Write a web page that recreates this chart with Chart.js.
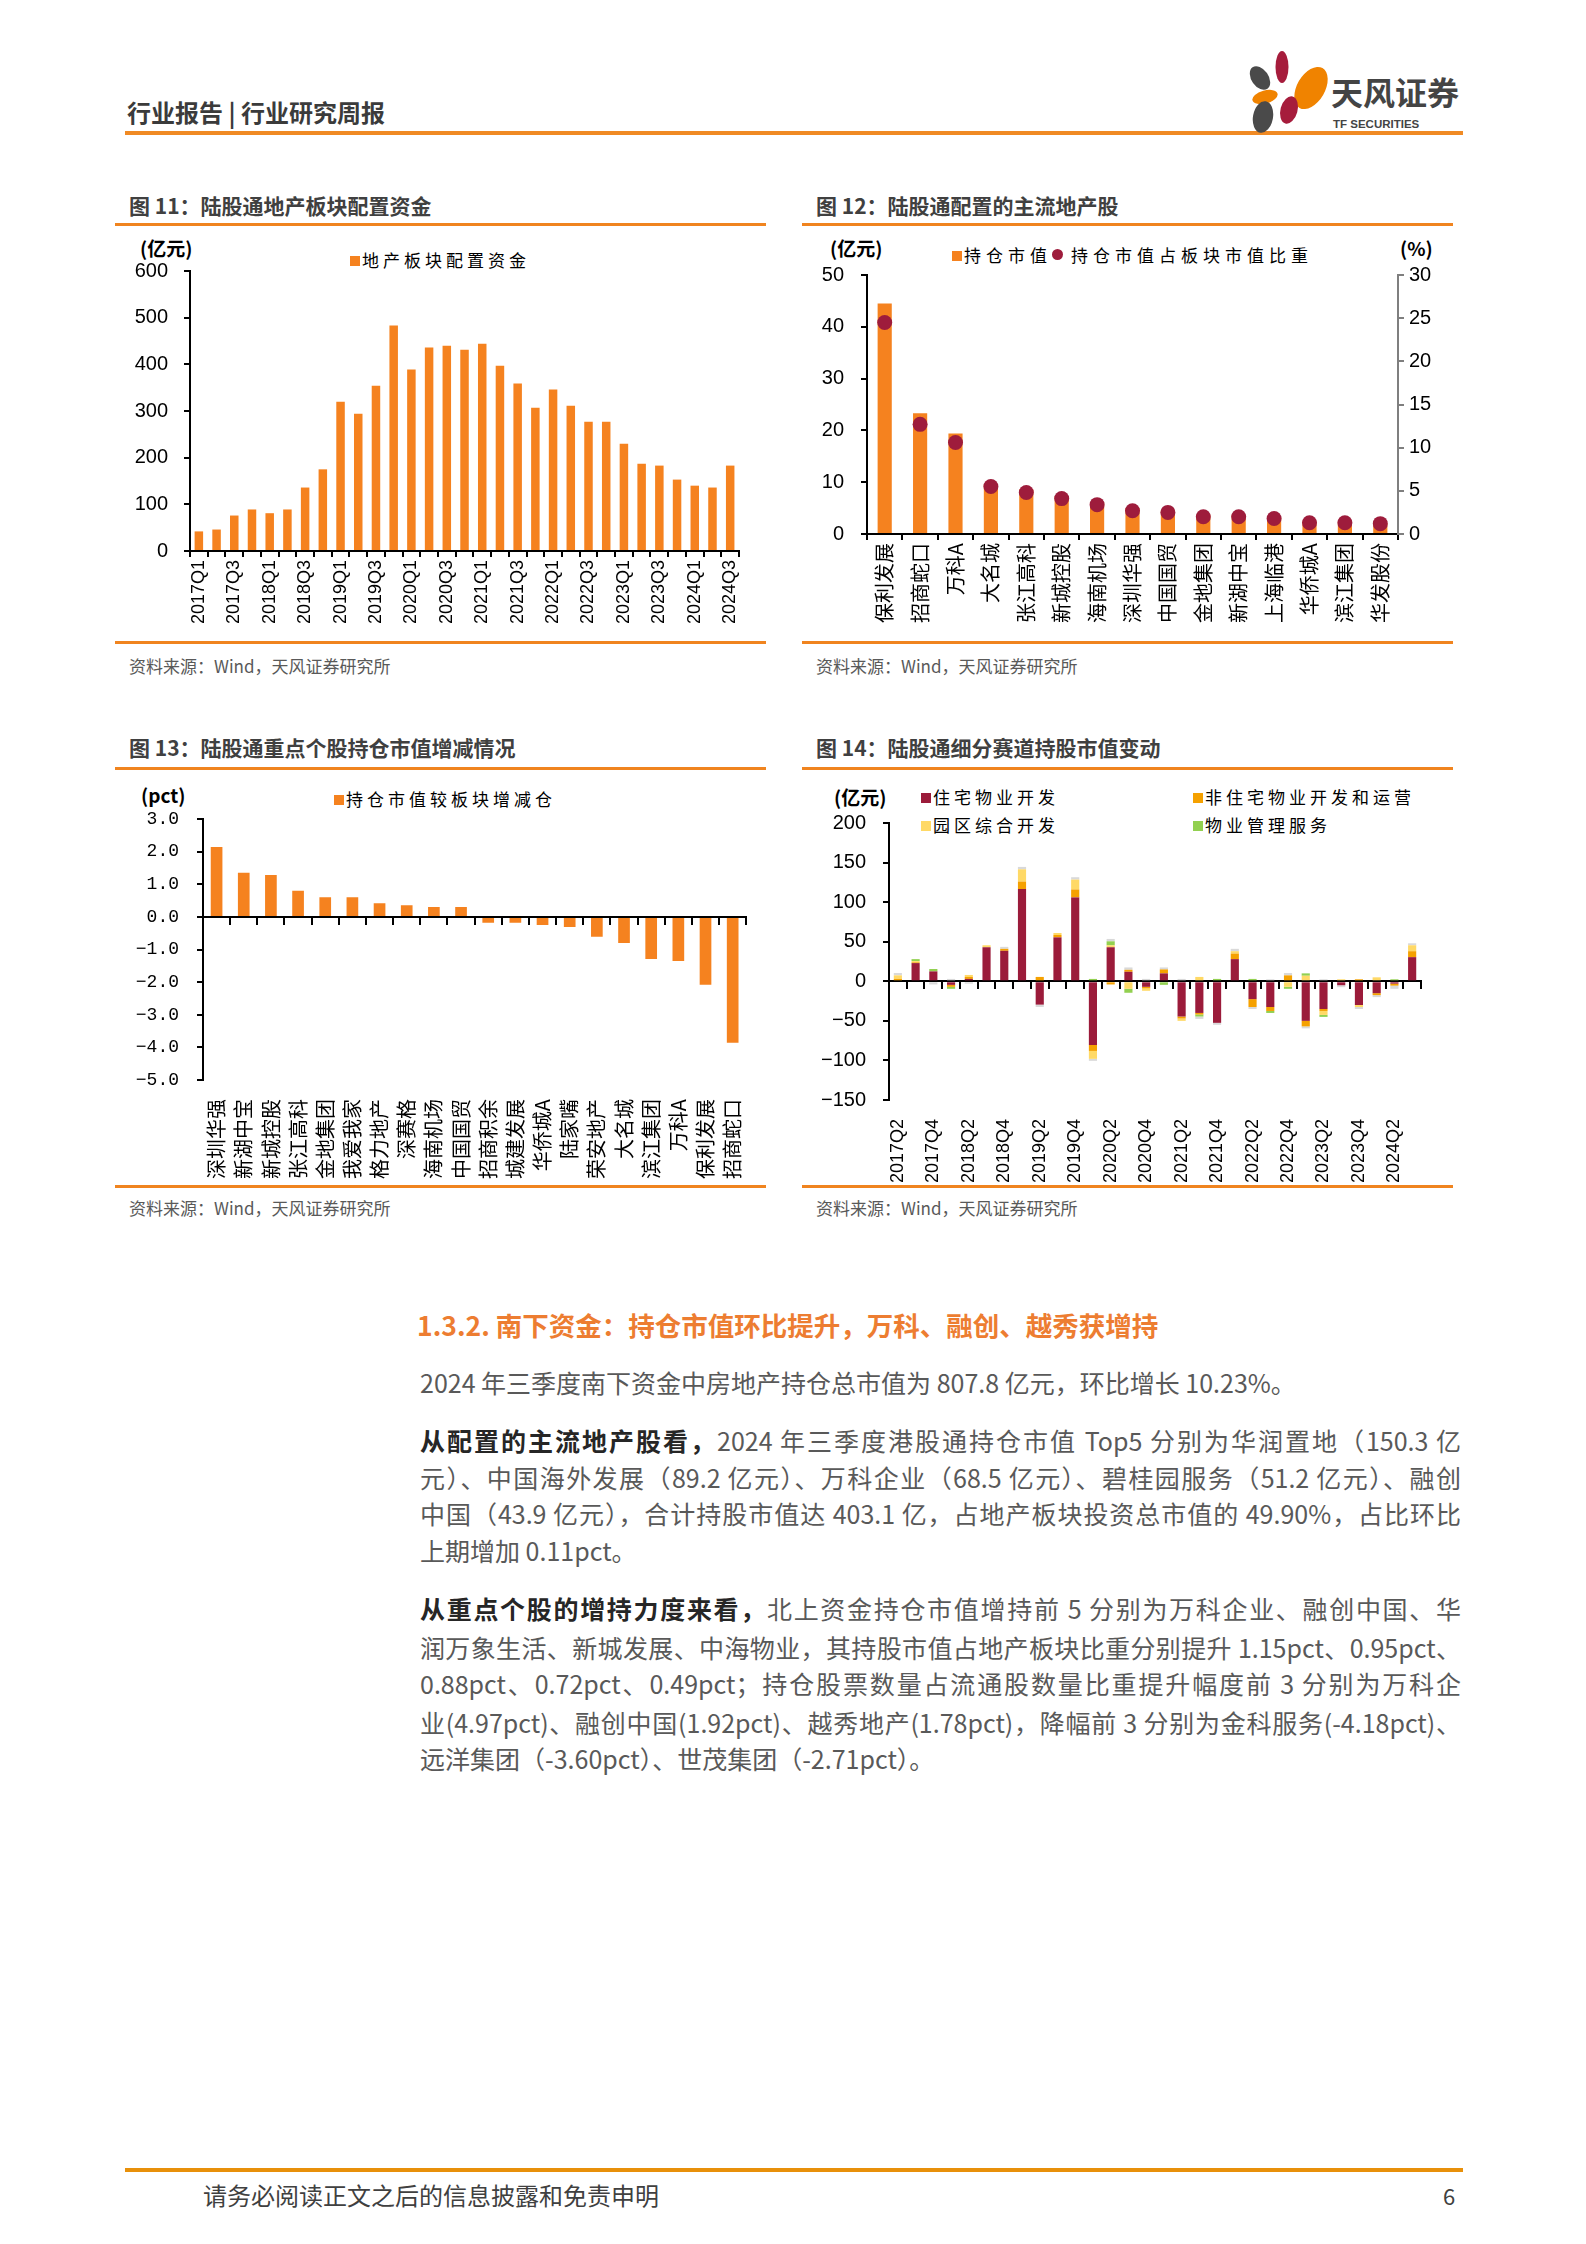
<!DOCTYPE html>
<html>
<head>
<meta charset="utf-8">
<script src="https://cdn.jsdelivr.net/npm/chart.js@4.4.1/dist/chart.umd.min.js"></script>
<style>
body { margin: 0; background: #fff; }
#page { position: relative; width: 1586px; height: 2244px; overflow: hidden; font-family: "Noto Sans CJK SC", sans-serif; }
.abs { position: absolute; white-space: nowrap; }
.rule { position: absolute; background: #F0841F; }
.ttl { font-size: 21px; font-weight: 700; color: #404040; line-height: 30px; }
.src { font-size: 17px; color: #595959; line-height: 24px; }
.unit { font-size: 19px; font-weight: 700; color: #000; line-height: 26px; }
.lg { font-size: 17px; letter-spacing: 4px; color: #000; line-height: 24px; }
.sq { display: inline-block; width: 10px; height: 10px; margin-right: 2px; vertical-align: 1px; }
.dt { display: inline-block; width: 11px; height: 11px; border-radius: 50%; background: #9E1C3C; margin: 0 8px 0 0; vertical-align: 2px; }
canvas { position: absolute; }
.ln { position: absolute; left: 420px; width: 1041px; font-size: 25px; line-height: 36px; color: #595959; white-space: nowrap; }
.ln b { color: #262626; }
</style>
</head>
<body>
<div id="page">
  <!-- 머리글 -->
  <div class="abs" style="left:127px;top:96px;font-size:24px;font-weight:700;color:#3b3b3b;line-height:32px;">行业报告 | 行业研究周报</div>
  <div class="rule" style="left:125px;top:131px;width:1338px;height:4px;background:#F08A24;"></div>
  <svg class="abs" style="left:0;top:0" width="1586" height="150">
    <ellipse cx="1282" cy="67" rx="6.5" ry="16" fill="#A61C3C"/>
    <ellipse cx="1260" cy="78" rx="8.5" ry="13" transform="rotate(-35 1260 78)" fill="#4a4a4a"/>
    <ellipse cx="1311" cy="88" rx="14" ry="23" transform="rotate(30 1311 88)" fill="#F08300"/>
    <ellipse cx="1265" cy="97" rx="13" ry="6.5" transform="rotate(-15 1265 97)" fill="#F08300"/>
    <ellipse cx="1289" cy="110" rx="8.5" ry="14" transform="rotate(15 1289 110)" fill="#A61C3C"/>
    <ellipse cx="1263" cy="117" rx="10" ry="16" transform="rotate(10 1263 117)" fill="#4a4a4a"/>
    <text x="1331" y="105" font-size="32" font-weight="700" fill="#444" font-family="Noto Sans CJK SC">天风证券</text>
    <text x="1333" y="128" font-size="11.5" font-weight="700" fill="#444" font-family="Liberation Sans">TF SECURITIES</text>
  </svg>

  <!-- 图 11 -->
  <div class="abs ttl" style="left:129px;top:190px;">图 11：陆股通地产板块配置资金</div>
  <div class="rule" style="left:115px;top:223px;width:651px;height:3px;"></div>
  <div class="abs unit" style="left:140px;top:235px;">(亿元)</div>
  <div class="abs lg" style="left:350px;top:248px;"><span class="sq" style="background:#F5821F"></span>地产板块配置资金</div>
  <canvas id="c11" width="625" height="385" style="left:130px;top:255px;"></canvas>
  <div class="rule" style="left:115px;top:641px;width:651px;height:3px;"></div>
  <div class="abs src" style="left:129px;top:654px;">资料来源：Wind，天风证券研究所</div>

  <!-- 图 12 -->
  <div class="abs ttl" style="left:816px;top:190px;">图 12：陆股通配置的主流地产股</div>
  <div class="rule" style="left:802px;top:223px;width:651px;height:3px;"></div>
  <div class="abs unit" style="left:830px;top:235px;">(亿元)</div>
  <div class="abs unit" style="left:1400px;top:235px;">(%)</div>
  <div class="abs lg" style="left:952px;top:243px;letter-spacing:5px;"><span class="sq" style="background:#F5821F"></span>持仓市值<span class="dt"></span>持仓市值占板块市值比重</div>
  <canvas id="c12" width="650" height="385" style="left:805px;top:260px;"></canvas>
  <div class="rule" style="left:802px;top:641px;width:651px;height:3px;"></div>
  <div class="abs src" style="left:816px;top:654px;">资料来源：Wind，天风证券研究所</div>

  <!-- 图 13 -->
  <div class="abs ttl" style="left:129px;top:732px;">图 13：陆股通重点个股持仓市值增减情况</div>
  <div class="rule" style="left:115px;top:767px;width:651px;height:3px;"></div>
  <div class="abs unit" style="left:141px;top:782px;">(pct)</div>
  <div class="abs lg" style="left:334px;top:787px;"><span class="sq" style="background:#F5821F"></span>持仓市值较板块增减仓</div>
  <canvas id="c13" width="648" height="380" style="left:120px;top:805px;"></canvas>
  <div class="rule" style="left:115px;top:1185px;width:651px;height:3px;"></div>
  <div class="abs src" style="left:129px;top:1196px;">资料来源：Wind，天风证券研究所</div>

  <!-- 图 14 -->
  <div class="abs ttl" style="left:816px;top:732px;">图 14：陆股通细分赛道持股市值变动</div>
  <div class="rule" style="left:802px;top:767px;width:651px;height:3px;"></div>
  <div class="abs unit" style="left:834px;top:784px;">(亿元)</div>
  <div class="abs lg" style="left:921px;top:785px;"><span class="sq" style="background:#9B1B3A"></span>住宅物业开发</div>
  <div class="abs lg" style="left:921px;top:813px;"><span class="sq" style="background:#FFD966"></span>园区综合开发</div>
  <div class="abs lg" style="left:1193px;top:785px;"><span class="sq" style="background:#F5A100"></span>非住宅物业开发和运营</div>
  <div class="abs lg" style="left:1193px;top:813px;"><span class="sq" style="background:#92D050"></span>物业管理服务</div>
  <canvas id="c14" width="640" height="380" style="left:805px;top:805px;"></canvas>
  <div class="rule" style="left:802px;top:1185px;width:651px;height:3px;"></div>
  <div class="abs src" style="left:816px;top:1196px;">资料来源：Wind，天风证券研究所</div>

  <!-- 본문 -->
  <div class="abs" style="left:417px;top:1306px;font-size:26.5px;font-weight:700;color:#ED7D31;line-height:38px;">1.3.2. 南下资金：持仓市值环比提升，万科、融创、越秀获增持</div>
  <div class="ln" style="top:1364px;"><span>2024 年三季度南下资金中房地产持仓总市值为 807.8 亿元，环比增长 10.23%。</span></div>

  <div class="ln j" style="top:1422px;"><span><b>从配置的主流地产股看，</b>2024 年三季度港股通持仓市值 Top5 分别为华润置地（150.3 亿</span></div>
  <div class="ln j" style="top:1459px;"><span>元）、中国海外发展（89.2 亿元）、万科企业（68.5 亿元）、碧桂园服务（51.2 亿元）、融创</span></div>
  <div class="ln j" style="top:1495px;"><span>中国（43.9 亿元），合计持股市值达 403.1 亿，占地产板块投资总市值的 49.90%，占比环比</span></div>
  <div class="ln" style="top:1532px;"><span>上期增加 0.11pct。</span></div>

  <div class="ln j" style="top:1590px;"><span><b>从重点个股的增持力度来看，</b>北上资金持仓市值增持前 5 分别为万科企业、融创中国、华</span></div>
  <div class="ln j" style="top:1629px;"><span>润万象生活、新城发展、中海物业，其持股市值占地产板块比重分别提升 1.15pct、0.95pct、</span></div>
  <div class="ln j" style="top:1665px;"><span>0.88pct、0.72pct、0.49pct；持仓股票数量占流通股数量比重提升幅度前 3 分别为万科企</span></div>
  <div class="ln j" style="top:1704px;"><span>业(4.97pct)、融创中国(1.92pct)、越秀地产(1.78pct)，降幅前 3 分别为金科服务(-4.18pct)、</span></div>
  <div class="ln" style="top:1740px;"><span>远洋集团（-3.60pct）、世茂集团（-2.71pct）。</span></div>

  <!-- 바닥글 -->
  <div class="rule" style="left:125px;top:2168px;width:1338px;height:4px;background:#E8900A;"></div>
  <div class="abs" style="left:203px;top:2180px;font-size:24px;color:#404040;line-height:30px;">请务必阅读正文之后的信息披露和免责申明</div>
  <div class="abs" style="left:1443px;top:2180px;font-size:22px;color:#404040;line-height:30px;">6</div>
</div>

<script>
// --- 데이터 ---
const quarters11 = ['2017Q1','2017Q2','2017Q3','2017Q4','2018Q1','2018Q2','2018Q3','2018Q4','2019Q1','2019Q2','2019Q3','2019Q4','2020Q1','2020Q2','2020Q3','2020Q4','2021Q1','2021Q2','2021Q3','2021Q4','2022Q1','2022Q2','2022Q3','2022Q4','2023Q1','2023Q2','2023Q3','2023Q4','2024Q1','2024Q2','2024Q3'];
const fund11 = [42,46,76,89,81,89,136,175,320,294,354,483,389,436,440,431,444,397,359,307,346,311,277,277,230,187,183,153,140,136,183];

const stocks12 = ['保利发展','招商蛇口','万科A','大名城','张江高科','新城控股','海南机场','深圳华强','中国国贸','金地集团','新湖中宝','上海临港','华侨城A','滨江集团','华发股份'];
const mv12 = [44.5,23.3,19.4,9.6,8.6,7.3,6.1,5.0,4.6,3.7,3.7,3.2,2.4,2.4,2.1];
const share12 = [24.5,12.7,10.6,5.5,4.8,4.1,3.4,2.7,2.5,2.0,2.0,1.8,1.3,1.3,1.2];

const stocks13 = ['深圳华强','新湖中宝','新城控股','张江高科','金地集团','我爱我家','格力地产','深赛格','海南机场','中国国贸','招商积余','城建发展','华侨城A','陆家嘴','荣安地产','大名城','滨江集团','万科A','保利发展','招商蛇口'];
const chg13 = [2.14,1.35,1.28,0.80,0.60,0.60,0.42,0.36,0.30,0.30,-0.18,-0.18,-0.25,-0.31,-0.61,-0.80,-1.29,-1.35,-2.08,-3.86];

const quarters14 = ['2017Q2','2017Q3','2017Q4','2018Q1','2018Q2','2018Q3','2018Q4','2019Q1','2019Q2','2019Q3','2019Q4','2020Q1','2020Q2','2020Q3','2020Q4','2021Q1','2021Q2','2021Q3','2021Q4','2022Q1','2022Q2','2022Q3','2022Q4','2023Q1','2023Q2','2023Q3','2023Q4','2024Q1','2024Q2','2024Q3'];
const resi14    = [0,23,12.5,-4.5,3,43,38.5,116.5,-29.5,55.5,106,-80.5,43,12,-7,10,-44.5,-40,-52.5,28,-22.5,-32.5,0,-50,-35,-5,-30,-15,-3,30.5];
const nonResi14 = [3,1,0,-2.5,2.5,0,2.5,9.5,5.5,3,10,-7.5,-4,2.5,-2,5,-2.5,-2,0,7,-10,-5,7.5,-7,-2.5,0,2.5,-2.5,-2.5,7.5];
const park14    = [4.5,1.5,0,0,2.5,2.5,0,15.5,0,2.5,12.5,-10,2.5,-9.5,-3,0,-3,5.5,0,3,0,0,-7,7,-5,2.5,-2.5,5,0,7.5];
const propMgmt14= [0,2.5,3,-2.5,0,0,0,0,0,0,0,3,5,-5,0,-4.5,0,-2.5,3,0,3,-2.5,-2.5,3,-2.5,0,0,0,2.5,0];
const other14   = [3,0,-4,3,-3,0,2.5,3,-3,0,3,-2.5,3,3,3,2.5,3,-3,-2.5,3,-2.5,2.5,3,-2.5,2.5,-2.5,-2.5,-2.5,-4,2.5];

// --- 공통 설정 ---
Chart.defaults.font.family = '"Liberation Sans", Arial, sans-serif';
Chart.defaults.color = '#000';
const ORANGE = '#F5821F';
const CJK = '"Noto Sans CJK SC", sans-serif';

function baseOpts(pad) {
    return { responsive: false, animation: false, devicePixelRatio: 1, layout: { padding: pad },
             plugins: { legend: { display: false }, tooltip: { enabled: false } } };
}
// 세로축: 폭 고정, 라벨 여백이 plot 위치를 밀지 않도록
function fixV(width) {
    return s => { s.width = width; s.paddingTop = 0; s.paddingBottom = 0; };
}
function valAxis(min, max, step, width, font, pad, fmt) {
    return {
        min: min, max: max,
        ticks: { stepSize: step, color: '#000', font: font, padding: pad, callback: fmt },
        grid: { drawOnChartArea: false, tickLength: 6, color: '#000', lineWidth: 2 },
        border: { display: true, color: '#000', width: 2 },
        afterFit: fixV(width)
    };
}
function zeroAxis() {
    // 0 위치의 가로축 (눈금만)
    return {
        type: 'category', axis: 'x', position: { y: 0 }, offset: true,
        ticks: { autoSkip: false, callback: () => '', padding: 0 },
        grid: { display: true, drawOnChartArea: false, offset: true, tickLength: 7, color: '#000', lineWidth: 2 },
        border: { display: true, color: '#000', width: 2 }
    };
}
const minus = v => String(v).replace('-', '\u2212');

// --- 图 11 ---
new Chart(document.getElementById('c11'), {
    type: 'bar',
    data: { labels: quarters11, datasets: [{ label: '地产板块配置资金', data: fund11, backgroundColor: ORANGE, barPercentage: 0.48, categoryPercentage: 1 }] },
    options: { ...baseOpts({ top: 16, right: 13, left: 0, bottom: 0 }),
        scales: {
            x: { ticks: { autoSkip: false, minRotation: 90, maxRotation: 90, font: { size: 18 }, padding: 3,
                          callback(v, i) { return i % 2 === 0 ? this.getLabelForValue(v) : ''; } },
                 grid: { drawOnChartArea: false, offset: true, tickLength: 6, color: '#000', lineWidth: 2 },
                 border: { color: '#000', width: 2 },
                 afterFit(s) { s.height = 89; } },
            y: valAxis(0, 600, 100, 60, { size: 20 }, 16)
        } }
});

// --- 图 12 ---
new Chart(document.getElementById('c12'), {
    type: 'bar',
    data: { labels: stocks12, datasets: [
        { type: 'line', label: '持仓市值占板块市值比重', data: share12, yAxisID: 'y2', showLine: false,
          pointRadius: 7.5, pointBackgroundColor: '#9E1C3C', pointBorderWidth: 0, order: 0 },
        { label: '持仓市值', data: mv12, backgroundColor: ORANGE, barPercentage: 0.4, categoryPercentage: 1, yAxisID: 'y', order: 1 }
    ] },
    options: { ...baseOpts({ top: 15, right: 0, left: 0, bottom: 0 }),
        scales: {
            x: { ticks: { autoSkip: false, minRotation: 90, maxRotation: 90, font: { size: 20, family: CJK }, padding: 3 },
                 grid: { drawOnChartArea: false, offset: true, tickLength: 6, color: '#000', lineWidth: 2 },
                 border: { color: '#000', width: 2 },
                 afterFit(s) { s.height = 111; } },
            y: valAxis(0, 50, 10, 62, { size: 20 }, 17),
            y2: { position: 'right', min: 0, max: 30,
                  ticks: { stepSize: 5, color: '#000', font: { size: 20 }, padding: 5 },
                  grid: { drawOnChartArea: false, tickLength: 6, color: '#7f7f7f', lineWidth: 2 },
                  border: { color: '#7f7f7f', width: 2 },
                  afterFit: fixV(57) }
        } }
});

// --- 图 13 ---
new Chart(document.getElementById('c13'), {
    type: 'bar',
    data: { labels: stocks13, datasets: [{ label: '持仓市值较板块增减仓', data: chg13, backgroundColor: ORANGE, barPercentage: 0.43, categoryPercentage: 1 }] },
    options: { ...baseOpts({ top: 14, right: 13, left: 0, bottom: 0 }),
        scales: {
            x: { ticks: { autoSkip: false, minRotation: 90, maxRotation: 90, font: { size: 20, family: CJK }, padding: 11 },
                 grid: { display: false }, border: { display: false },
                 afterFit(s) { s.height = 105; } },
            x2: zeroAxis(),
            y: valAxis(-5, 3, 1, 83, { size: 18, family: '"Liberation Mono", monospace' }, 18, v => minus(v.toFixed(1)))
        } }
});

// --- 图 14 ---
const seg = (label, data, color) => ({ label: label, data: data, backgroundColor: color, barPercentage: 0.46, categoryPercentage: 1 });
new Chart(document.getElementById('c14'), {
    type: 'bar',
    data: { labels: quarters14, datasets: [
        seg('住宅物业开发', resi14, '#9B1B3A'),
        seg('非住宅物业开发和运营', nonResi14, '#F5A100'),
        seg('园区综合开发', park14, '#FFD966'),
        seg('物业管理服务', propMgmt14, '#92D050'),
        seg('其他', other14, '#D9D9D9')
    ] },
    options: { ...baseOpts({ top: 18, right: 15, left: 0, bottom: 0 }),
        scales: {
            x: { stacked: true,
                 ticks: { autoSkip: false, minRotation: 90, maxRotation: 90, font: { size: 18 }, padding: 11,
                          callback(v, i) { return i % 2 === 0 ? this.getLabelForValue(v) : ''; } },
                 grid: { display: false }, border: { display: false },
                 afterFit(s) { s.height = 85; } },
            x2: zeroAxis(),
            y: { ...valAxis(-150, 200, 50, 84, { size: 20 }, 17, v => minus(v)), stacked: true }
        } }
});

// --- 본문 줄 맞춤 ---
const LINE_W = 1041;
document.querySelectorAll('.ln').forEach(el => {
    const sp = el.firstElementChild;
    const w = sp.getBoundingClientRect().width;
    if (w > LINE_W) {
        sp.style.display = 'inline-block';
        sp.style.transformOrigin = '0 0';
        sp.style.transform = 'scaleX(' + (LINE_W / w) + ')';
    } else if (el.classList.contains('j')) {
        el.style.whiteSpace = 'normal';
        el.style.textAlign = 'justify';
        el.style.textAlignLast = 'justify';
    }
});
</script>
</body>
</html>
